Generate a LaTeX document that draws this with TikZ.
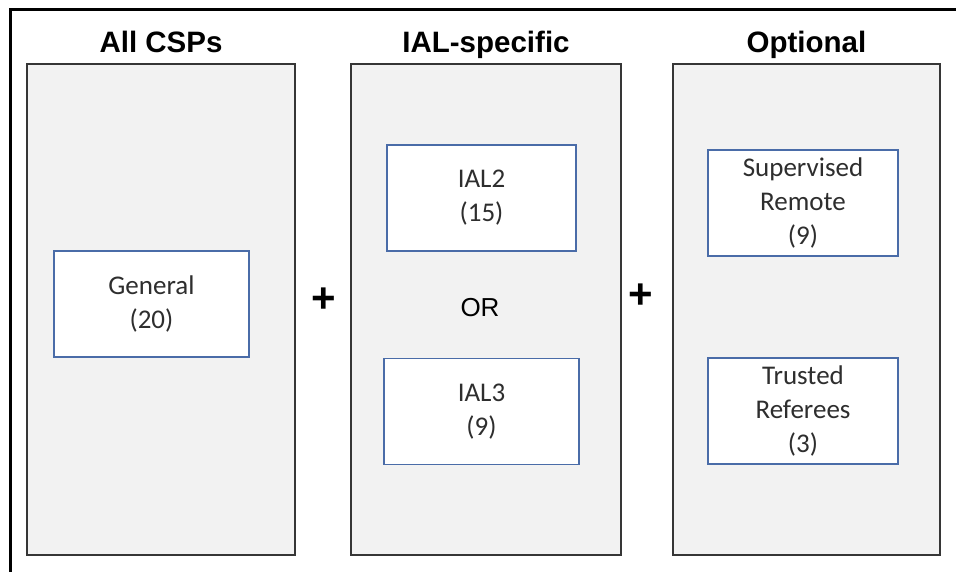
\documentclass[tikz,border=0pt]{standalone}
\usepackage{fontspec}
\setmainfont{Liberation Sans}
\newfontfamily\boxfont{Carlito}
\usetikzlibrary{positioning}
\definecolor{panelgray}{HTML}{F2F2F2}
\definecolor{panelline}{HTML}{363636}
\definecolor{boxblue}{HTML}{4A6CA8}
\definecolor{boxtext}{HTML}{2E2E2E}

\begin{document}
\begin{tikzpicture}[
    x=1pt, y=-1pt,
    panel/.style={draw=panelline, fill=panelgray, line width=2pt, minimum height=491pt, inner sep=0pt},
    title/.style={font=\fontsize{29.5}{32}\selectfont\bfseries, inner sep=0pt, anchor=base},
    item/.style={draw=boxblue, fill=white, line width=1.6pt, minimum height=106pt, inner sep=0pt,
        align=center, text=boxtext, font=\boxfont\fontsize{27}{34}\selectfont},
    plus/.style={font=\fontsize{42}{42}\selectfont\bfseries, inner sep=0pt}
]
    \useasboundingbox (0,0) rectangle (956,571);

    % Outer frame
    \draw[line width=3pt] (10.5,580) -- (10.5,9) -- (966,9);

    % Panels
    \node[panel, minimum width=268pt] (csps) at (161,309.5) {};
    \node[panel, minimum width=270pt] (ial) at (486,309.5) {};
    \node[panel, minimum width=267pt] (opt) at (806.5,309.5) {};

    % Titles
    \node[title] (tcsps) at ([yshift=10.5pt]csps.north) {All CSPs};
    \node[title] (tial) at ([yshift=10.5pt]ial.north) {IAL-specific};
    \node[title] (topt) at ([yshift=10.5pt]opt.north) {Optional};

    % Requirement groups
    \node[item, minimum width=195pt] (general) at (151.5,304) {General\\(20)};
    \node[item, minimum width=189pt] (ial2) at (481.5,198) {IAL2\\(15)};
    \node[item, minimum width=195pt] (ial3) at (481.5,411.5) {IAL3\\(9)};
    \node[item, minimum width=190pt] (remote) at (803,203) {Supervised\\Remote\\(9)};
    \node[item, minimum width=190pt] (referees) at (803,411) {Trusted\\Referees\\(3)};

    \node[font=\fontsize{26}{30}\selectfont, inner sep=0pt] (or) at (480,308) {OR};

    % Plus signs
    \node[plus] (plusa) at (324,300) {+};
    \node[plus] (plusb) at (641,296) {+};
\end{tikzpicture}
\end{document}
